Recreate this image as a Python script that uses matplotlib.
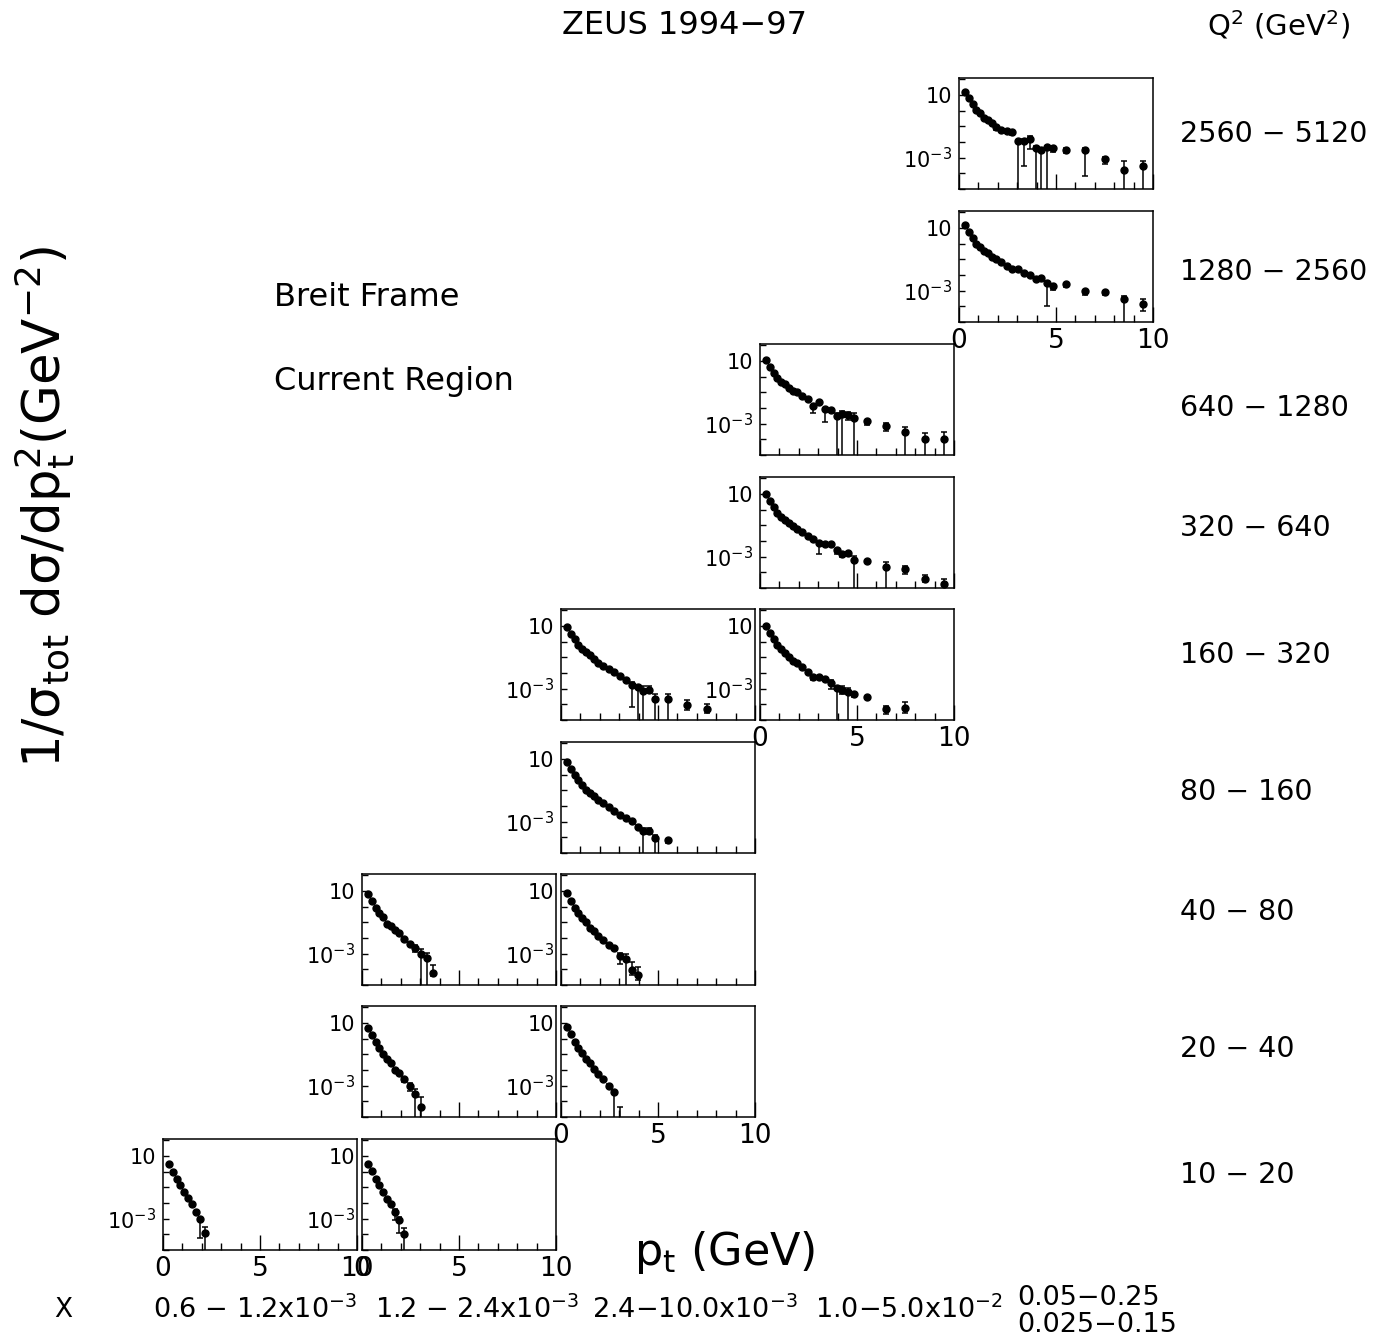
import numpy as np
import matplotlib.pyplot as plt
from matplotlib.ticker import FixedLocator, NullFormatter

plt.rcParams['font.family'] = 'DejaVu Sans'
plt.rcParams['mathtext.default'] = 'regular'

W, H = 1388, 1340

# p_t bin centres (GeV)
pt_bins = [0.3, 0.5, 0.7, 0.9, 1.1, 1.3, 1.5, 1.7, 1.9, 2.15, 2.45, 2.75,
           3.05, 3.35, 3.65, 3.95, 4.25, 4.55, 4.85, 5.5, 6.5, 7.5, 8.5, 9.5]

q2_labels = ['2560 − 5120', '1280 − 2560', '640 − 1280', '320 − 640', '160 − 320',
             '80 − 160', '40 − 80', '20 − 40', '10 − 20']
x_labels = ['0.6 − 1.2x10$^{-3}$', '1.2 − 2.4x10$^{-3}$', '2.4−10.0x10$^{-3}$',
            '1.0−5.0x10$^{-2}$']
x_label_last = ['0.05−0.25', '0.025−0.15']

# log10(1/sigma dsigma/dpt^2), errors in decades (9 = down to the axis)
y_2560_x4 = [1.2, 0.78, 0.40, 0.04, -0.17, -0.49, -0.6, -0.77, -1.06, -1.23, -1.31, -1.35,
             -1.97, -1.92, -1.82, -2.37, -2.49, -2.35, -2.37, -2.51, -2.49, -3.08, -3.8, -3.55]
lo_2560_x4 = [0, 0, 0, 0, 0, 0, 0, 0, 0.2, 0.1, 0.1, 0.2, 9, 1.6, 0.6, 9, 9, 9, 0.3, 0.2, 1.7, 0.3, 9, 9]
hi_2560_x4 = [0, 0, 0, 0, 0, 0, 0, 0, 0, 0, 0, 0, 0.1, 0.1, 0.2, 0.1, 0.1, 0.1, 0.1, 0.1, 0.1, 0.15, 0.6, 0.35]

y_1280_x4 = [1.16, 0.74, 0.36, 0.0, -0.21, -0.46, -0.63, -0.84, -1.0, -1.16, -1.41, -1.62,
             -1.62, -1.87, -2.0, -2.26, -2.2, -2.49, -2.68, -2.6, -3.04, -3.1, -3.52, -3.88]
lo_1280_x4 = [0, 0, 0, 0, 0, 0, 0, 0, 0, 0, 0, 0, 0, 0, 0, 0, 0, 1.5, 0.3, 0.15, 0.25, 0.15, 9, 0.4]
hi_1280_x4 = [0, 0, 0, 0, 0, 0, 0, 0, 0, 0, 0, 0, 0, 0, 0, 0, 0, 0.1, 0.1, 0, 0.1, 0.1, 0.2, 0.35]

y_640_x3 = [1.03, 0.63, 0.23, -0.1, -0.32, -0.48, -0.75, -0.9, -1.01, -1.22, -1.43, -1.85,
            -1.64, -2.06, -2.1, -2.54, -2.37, -2.48, -2.62, -2.86, -3.17, -3.53, -3.95, -3.95]
lo_640_x3 = [0, 0, 0, 0, 0, 0, 0, 0, 0, 0, 0, 0.45, 0.2, 0.85, 0.15, 9, 9, 0.3, 9, 0.2, 0.3, 9, 9, 9]
hi_640_x3 = [0, 0, 0, 0, 0, 0, 0, 0, 0, 0, 0, 0, 0, 0, 0, 0.2, 0.2, 0.2, 0.3, 0, 0.2, 0.3, 0.35, 0.4]

y_320_x3 = [0.99, 0.55, 0.19, -0.19, -0.44, -0.67, -0.84, -1.03, -1.24, -1.41, -1.71, -1.87,
            -2.1, -2.2, -2.2, -2.6, -2.81, -2.77, -3.2, -3.3, -3.67, -3.81, -4.4, -4.75]
lo_320_x3 = [0, 0, 0, 0, 0, 0, 0, 0, 0, 0, 0, 0, 0.7, 0, 0, 0.2, 0.2, 0.2, 9, 0, 9, 0.3, 0.2, 0]
hi_320_x3 = [0, 0, 0, 0, 0, 0, 0, 0, 0, 0, 0, 0, 0, 0, 0, 0, 0, 0, 0.25, 0, 0.3, 0.2, 0.25, 0.3]

y_160_x2 = [0.95, 0.51, 0.15, -0.23, -0.48, -0.69, -0.86, -1.11, -1.34, -1.57, -1.76, -1.92,
            -2.22, -2.47, -2.76, -2.89, -3.16, -3.1, -3.67, -3.63, -4.05, -4.28]
lo_160_x2 = [0, 0, 0, 0, 0, 0, 0, 0, 0, 0, 0, 0, 0, 0, 1.4, 9, 9, 0.2, 9, 9, 0.3, 0.3]
hi_160_x2 = [0, 0, 0, 0, 0, 0, 0, 0, 0, 0, 0, 0, 0, 0.1, 0.2, 0, 0.3, 0.3, 0.3, 0.3, 0.3, 0.3]

y_160_x3 = [1.01, 0.57, 0.15, -0.21, -0.5, -0.73, -1.0, -1.21, -1.36, -1.64, -1.91, -2.27,
            -2.27, -2.39, -2.65, -2.94, -3.06, -3.19, -3.31, -3.53, -4.32, -4.26]
lo_160_x3 = [0, 0, 0, 0, 0, 0, 0, 0, 0, 0, 0, 0.2, 0, 0, 0.4, 9, 0.3, 9, 0.2, 0, 0.3, 0.3]
hi_160_x3 = [0, 0, 0, 0, 0, 0, 0, 0, 0, 0, 0, 0, 0, 0, 0.2, 0, 0.2, 0.2, 0.1, 0, 0.2, 0.4]

y_80_x2 = [0.8, 0.38, 0.0, -0.35, -0.67, -0.97, -1.15, -1.34, -1.6, -1.83, -2.09, -2.34,
           -2.57, -2.74, -2.97, -3.35, -3.58, -3.58, -4.05, -4.19]
lo_80_x2 = [0, 0, 0, 0, 0, 0, 0, 0, 0, 0, 0, 0, 0, 0, 0, 0.15, 9, 0.2, 9, 0.15]
hi_80_x2 = [0, 0, 0, 0, 0, 0, 0, 0, 0, 0, 0, 0, 0, 0, 0, 0.15, 0.2, 0.15, 0.2, 0.1]

y_40_x1 = [0.78, 0.38, -0.1, -0.41, -0.69, -1.09, -1.22, -1.47, -1.68, -2.05, -2.37, -2.62,
           -3.0, -3.25, -4.22]
lo_40_x1 = [0, 0, 0, 0, 0, 0, 0, 0, 0, 0, 0.1, 0.3, 9, 9, 0.2]
hi_40_x1 = [0, 0, 0, 0, 0, 0, 0, 0, 0, 0, 0.1, 0.2, 0.3, 0.3, 0.5]

y_40_x2 = [0.85, 0.38, -0.06, -0.41, -0.73, -1.01, -1.34, -1.57, -1.89, -2.1, -2.46, -2.62,
           -3.15, -3.32, -4.05, -4.37]
lo_40_x2 = [0, 0, 0, 0, 0, 0, 0, 0, 0, 0, 0, 0, 0.5, 9, 0.3, 0.3]
hi_40_x2 = [0, 0, 0, 0, 0, 0, 0, 0, 0, 0, 0, 0, 0.2, 0.3, 0.5, 0.5]

y_20_x1 = [0.68, 0.25, -0.19, -0.61, -0.99, -1.32, -1.58, -2.0, -2.17, -2.59, -3.01, -3.54, -4.34]
lo_20_x1 = [0, 0, 0, 0, 0, 0, 0, 0, 0.1, 0.2, 0.3, 9, 9]
hi_20_x1 = [0, 0, 0, 0, 0, 0, 0, 0, 0, 0.1, 0.2, 0.3, 0.6]

y_20_x2 = [0.74, 0.3, -0.23, -0.58, -0.94, -1.28, -1.58, -1.91, -2.27, -2.59, -3.01, -3.43, -5.4]
lo_20_x2 = [0, 0, 0, 0, 0, 0, 0, 0, 0, 0, 0.1, 9, 9]
hi_20_x2 = [0, 0, 0, 0, 0, 0, 0, 0, 0, 0, 0.1, 0.1, 1.06]

y_10_x0 = [0.49, -0.02, -0.5, -0.86, -1.3, -1.68, -2.04, -2.57, -3.03, -3.91]
lo_10_x0 = [0, 0, 0, 0, 0, 0, 0, 0, 1.2, 9]
hi_10_x0 = [0, 0, 0, 0, 0, 0, 0, 0, 0.1, 0.4]

y_10_x1 = [0.49, 0.02, -0.46, -0.84, -1.3, -1.72, -2.08, -2.57, -3.11, -4.0]
lo_10_x1 = [0, 0, 0, 0, 0, 0, 0, 0.5, 0.8, 9]
hi_10_x1 = [0, 0, 0, 0, 0, 0, 0, 0.2, 0.2, 0.4]

# (row, column, y, lo, hi, show x labels)
panels = [
    (0, 4, y_2560_x4, lo_2560_x4, hi_2560_x4, False),
    (1, 4, y_1280_x4, lo_1280_x4, hi_1280_x4, True),
    (2, 3, y_640_x3, lo_640_x3, hi_640_x3, False),
    (3, 3, y_320_x3, lo_320_x3, hi_320_x3, False),
    (4, 2, y_160_x2, lo_160_x2, hi_160_x2, False),
    (4, 3, y_160_x3, lo_160_x3, hi_160_x3, True),
    (5, 2, y_80_x2, lo_80_x2, hi_80_x2, False),
    (6, 1, y_40_x1, lo_40_x1, hi_40_x1, False),
    (6, 2, y_40_x2, lo_40_x2, hi_40_x2, False),
    (7, 1, y_20_x1, lo_20_x1, hi_20_x1, False),
    (7, 2, y_20_x2, lo_20_x2, hi_20_x2, True),
    (8, 0, y_10_x0, lo_10_x0, hi_10_x0, True),
    (8, 1, y_10_x1, lo_10_x1, hi_10_x1, True),
]

col_left = [163, 362, 561, 760, 959]
row_top = [78, 211, 344, 477, 609, 742, 874, 1006, 1139]
pw, ph = 194, 111
row_label_y = [134, 272, 408, 528, 655, 792, 912, 1049, 1175]

fig = plt.figure(figsize=(W / 100, H / 100), dpi=100)

for r, c, yl, lo, hi, showx in panels:
    ax = fig.add_axes([col_left[c] / W, 1 - (row_top[r] + ph) / H, pw / W, ph / H])
    n = len(yl)
    x = np.array(pt_bins[:n])
    ly = np.array(yl)
    yv = 10 ** ly
    elo = yv - 10 ** (ly - np.array(lo))
    ehi = 10 ** (ly + np.array(hi)) - yv
    ax.errorbar(x, yv, yerr=[elo, ehi], fmt='o', color='black', ms=5,
                elinewidth=1.1, capsize=2.5, capthick=1.1)
    ax.set_yscale('log')
    ax.set_xlim(0, 10)
    ax.set_ylim(1e-5, 1.2e2)
    ax.xaxis.set_major_locator(FixedLocator([0, 5, 10]))
    ax.xaxis.set_minor_locator(FixedLocator([1, 2, 3, 4, 6, 7, 8, 9]))
    ax.yaxis.set_major_locator(FixedLocator([10, 1e-3]))
    ax.yaxis.set_minor_locator(FixedLocator([10.0 ** k for k in range(-5, 3)]))
    ax.yaxis.set_minor_formatter(NullFormatter())
    ax.set_yticklabels(['10', '10$^{-3}$'])
    if showx:
        ax.set_xticklabels(['0', '5', '10'])
    else:
        ax.set_xticklabels([])
    ax.tick_params(axis='x', which='major', direction='in', length=11, width=1,
                   labelsize=19, pad=4, top=False)
    ax.tick_params(axis='x', which='minor', direction='in', length=5, width=1, top=False)
    ax.tick_params(axis='y', which='both', direction='in', length=4, width=1,
                   labelsize=15, pad=5, right=False)
    for s in ax.spines.values():
        s.set_linewidth(1.1)

for i, lab in enumerate(q2_labels):
    fig.text(1180 / W, 1 - row_label_y[i] / H, lab, fontsize=20.5, ha='left', va='center')

fig.text(685 / W, 1 - 25 / H, 'ZEUS 1994−97', fontsize=23, ha='center', va='center')
fig.text(1278 / W, 1 - 25 / H, 'Q$^2$ (GeV$^2$)', fontsize=21, ha='center', va='center')
fig.text(274 / W, 1 - 298 / H, 'Breit Frame', fontsize=23, ha='left', va='center')
fig.text(274 / W, 1 - 381 / H, 'Current Region', fontsize=23, ha='left', va='center')
fig.text(45 / W, 1 - 507 / H, r'1/$\sigma_{tot}$ d$\sigma$/dp$_t^2$(GeV$^{-2}$)',
         fontsize=37, rotation=90, ha='center', va='center')
fig.text(725 / W, 1 - 1252 / H, 'p$_t$ (GeV)', fontsize=32, ha='center', va='center')

fig.text(63 / W, 1 - 1310 / H, 'X', fontsize=19, ha='center', va='center')
for xp, lab in zip([153, 375, 592, 815], x_labels):
    fig.text(xp / W, 1 - 1310 / H, lab, fontsize=19.5, ha='left', va='center')
fig.text(1017 / W, 1 - 1298 / H, x_label_last[0], fontsize=19.5, ha='left', va='center')
fig.text(1017 / W, 1 - 1325 / H, x_label_last[1], fontsize=19.5, ha='left', va='center')

fig.savefig('out.png', dpi=100)
